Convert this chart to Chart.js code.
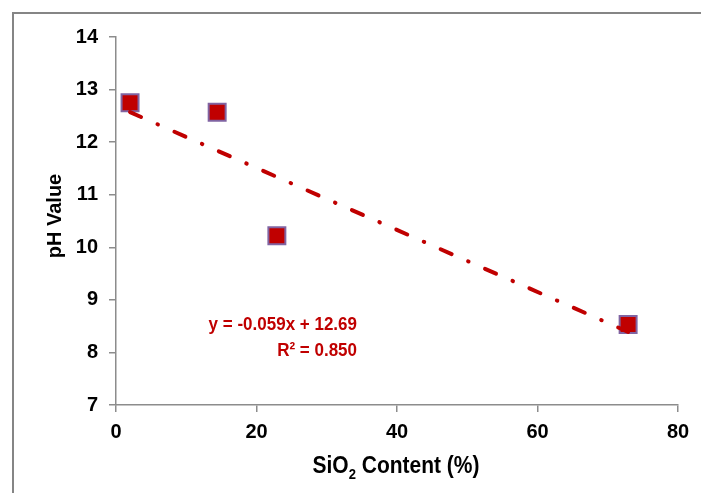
<!DOCTYPE html>
<html>
<head>
<meta charset="utf-8">
<script src="https://cdn.jsdelivr.net/npm/chart.js@4"></script>
<style>
  html, body { margin: 0; padding: 0; background: #fff; }
  #wrap { width: 701px; height: 493px; position: relative; }
</style>
</head>
<body>
<div id="wrap"><canvas id="phChart" width="701" height="493"></canvas></div>
<script>
// measured points: SiO2 content (%) vs pH
const sio2 = [2.0, 14.4, 22.9, 72.9];
const phValues = [12.75, 12.57, 10.22, 8.53];

// linear trendline, ends
const trendX = [2.0, 72.9];
const trendY = [12.57, 8.39];
const trendLabel = ["y = -0.059x + 12.69", "R\u00B2 = 0.850"];

const xTicks = [0, 20, 40, 60, 80];
const yTicks = [7, 8, 9, 10, 11, 12, 13, 14];

const red = "#C00000";
const axisGray = "#8C8C8C";
const fontFamily = "'Liberation Sans', Arial, sans-serif";

// frame lines + titles + equation, drawn on top of the library output
const decorations = {
    id: "decorations",
    beforeDraw(chart) {
        const ctx = chart.ctx;
        ctx.save();
        ctx.strokeStyle = "#858585";
        ctx.lineWidth = 2;
        ctx.beginPath();
        ctx.moveTo(13, 493);
        ctx.lineTo(13, 13);
        ctx.lineTo(701, 13);
        ctx.stroke();
        ctx.restore();
    },
    afterDraw(chart) {
        const ctx = chart.ctx;
        ctx.save();

        // y axis title
        ctx.fillStyle = "#000";
        ctx.font = "bold 20px " + fontFamily;
        ctx.textAlign = "center";
        ctx.textBaseline = "alphabetic";
        ctx.translate(61, 216);
        ctx.rotate(-Math.PI / 2);
        ctx.fillText("pH Value", 0, 0);
        ctx.setTransform(1, 0, 0, 1, 0, 0);

        // x axis title with subscript
        const big = "bold 21px " + fontFamily;
        const small = "bold 13px " + fontFamily;
        const parts = [["SiO", big, 0], ["2", small, 5], [" Content (%)", big, 0]];
        let total = 0;
        parts.forEach(p => { ctx.font = p[1]; total += ctx.measureText(p[0]).width; });
        let x = 396 - total / 2;
        ctx.textAlign = "left";
        ctx.textBaseline = "alphabetic";
        ctx.translate(0, 473);
        ctx.scale(1, 1.12);
        parts.forEach(p => {
            ctx.font = p[1];
            ctx.fillText(p[0], x, p[2]);
            x += ctx.measureText(p[0]).width;
        });
        ctx.setTransform(1, 0, 0, 1, 0, 0);

        // trendline equation
        ctx.fillStyle = red;
        ctx.font = "bold 17px " + fontFamily;
        ctx.textAlign = "right";
        ctx.textBaseline = "middle";
        [325, 351].forEach((yy, i) => {
            ctx.setTransform(1, 0, 0, 1.12, 0, yy);
            ctx.fillText(trendLabel[i], 357, 0);
        });
        ctx.restore();
    }
};

new Chart(document.getElementById("phChart"), {
    type: "scatter",
    data: {
        datasets: [
            {
                label: "Trend",
                type: "line",
                data: trendX.map((v, i) => ({ x: v, y: trendY[i] })),
                borderColor: red,
                borderWidth: 4,
                borderDash: [12, 18, 0.5, 18],
                borderCapStyle: "round",
                pointRadius: 0,
                fill: false
            },
            {
                label: "pH",
                data: sio2.map((v, i) => ({ x: v, y: phValues[i] })),
                pointStyle: "rect",
                pointRadius: 12,
                pointBackgroundColor: red,
                pointBorderColor: "#8064A2",
                pointBorderWidth: 2
            }
        ]
    },
    options: {
        responsive: false,
        animation: false,
        layout: { padding: { top: 37, right: 23, left: 0, bottom: 0 } },
        plugins: { legend: { display: false }, tooltip: { enabled: false } },
        scales: {
            x: {
                type: "linear",
                min: xTicks[0],
                max: xTicks[xTicks.length - 1],
                afterBuildTicks: s => { s.ticks = xTicks.map(v => ({ value: v })); },
                afterFit: s => { s.height = 88; },
                border: { color: axisGray, width: 1.5 },
                grid: { drawOnChartArea: false, color: axisGray, tickLength: 7, lineWidth: 1.5 },
                ticks: { color: "#000", padding: 8, font: { family: fontFamily, size: 20, weight: "bold" } }
            },
            y: {
                type: "linear",
                min: yTicks[0],
                max: yTicks[yTicks.length - 1],
                afterBuildTicks: s => { s.ticks = yTicks.map(v => ({ value: v })); },
                afterFit: s => { s.width = 116; },
                border: { color: axisGray, width: 1.5 },
                grid: { drawOnChartArea: false, color: axisGray, tickLength: 7, lineWidth: 1.5 },
                ticks: { color: "#000", padding: 11, font: { family: fontFamily, size: 20, weight: "bold" } }
            }
        }
    },
    plugins: [decorations]
});
</script>
</body>
</html>
